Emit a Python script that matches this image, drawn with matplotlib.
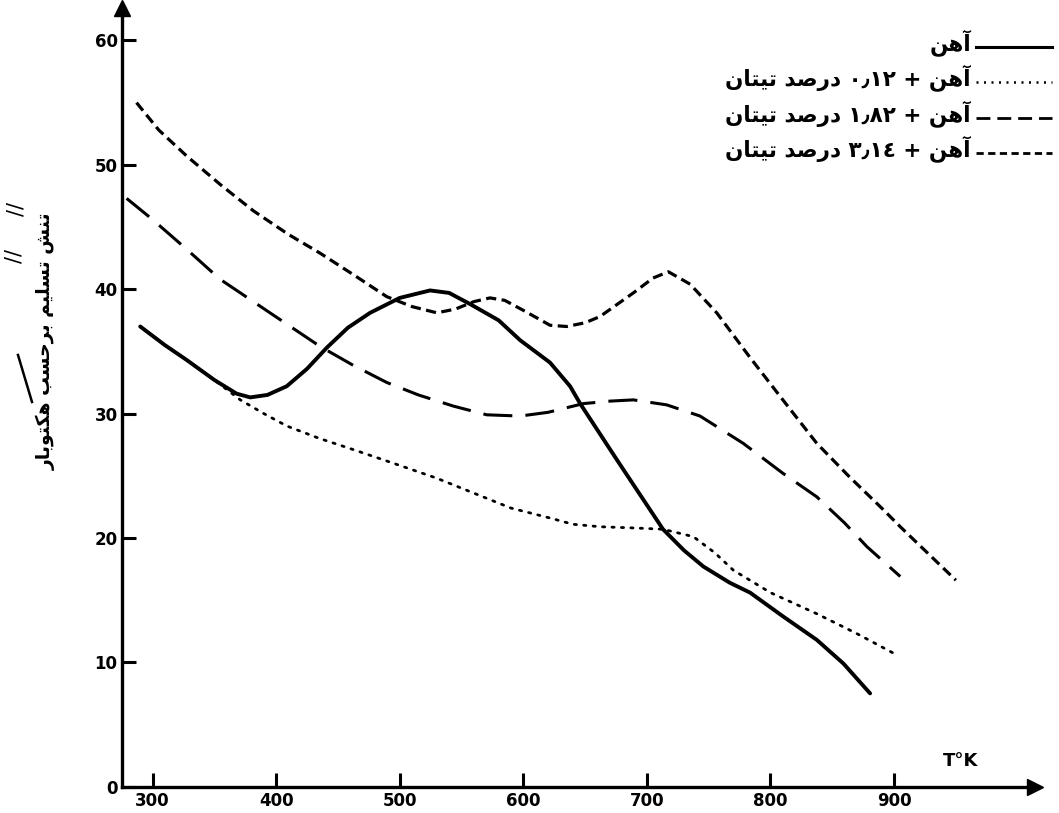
import re
import matplotlib
matplotlib.use("Agg")
import matplotlib.pyplot as plt
from matplotlib.lines import Line2D

# Temperature (K) and yield stress (hbar)
t_fe = [290, 310, 327.7, 350, 368, 379, 393, 408.6, 425, 441, 458, 476, 500, 524.5, 540,
        557, 580, 597.4, 621.6, 637.8, 646, 675.6, 713, 730, 745.7, 767, 783.5, 810, 837.5, 859, 880.6]
s_fe = [37.0, 35.5, 34.3, 32.7, 31.6, 31.3, 31.5, 32.2, 33.6, 35.3, 36.9, 38.1, 39.3, 39.9, 39.7,
        38.8, 37.5, 35.9, 34.1, 32.2, 30.8, 26.3, 20.7, 19.0, 17.7, 16.4, 15.6, 13.7, 11.8, 9.9, 7.5]

t_ti012 = [290, 310, 327.7, 350, 371, 390, 408.6, 435, 462.5, 495, 530, 560, 590, 621.6, 640,
           662, 690, 713, 737.6, 755, 770, 800, 837.5, 870, 902]
s_ti012 = [37.0, 35.5, 34.3, 32.7, 31.1, 30.0, 29.0, 28.0, 27.1, 26.0, 24.8, 23.6, 22.4, 21.6, 21.1,
           20.9, 20.8, 20.7, 20.1, 18.8, 17.4, 15.6, 13.9, 12.3, 10.6]

t_ti182 = [279, 300, 327.7, 354.6, 395, 435.5, 462, 489.5, 515, 543.4, 570.4, 597.4, 620, 648.6,
           670, 689, 716, 743, 778, 810, 837.5, 860, 878, 905]
s_ti182 = [47.3, 45.6, 43.2, 40.8, 38.1, 35.4, 33.9, 32.5, 31.5, 30.6, 29.9, 29.8, 30.1, 30.8,
           31.0, 31.1, 30.7, 29.8, 27.6, 25.2, 23.3, 21.2, 19.3, 16.9]

t_ti314 = [287, 305, 327.7, 355, 381.6, 410, 435.5, 462, 489.5, 510, 530, 545, 560, 573, 585, 600,
           621.6, 635, 650, 662, 689, 705, 717.4, 735, 756.5, 783.5, 810, 837.5, 864, 891, 905, 950]
s_ti314 = [55.0, 52.8, 50.7, 48.4, 46.3, 44.4, 42.9, 41.2, 39.4, 38.6, 38.1, 38.4, 39.0, 39.3, 39.1, 38.3,
           37.1, 37.0, 37.3, 37.8, 39.7, 40.9, 41.4, 40.4, 38.1, 34.5, 31.1, 27.6, 24.9, 22.3, 20.9, 16.6]

legend_labels = ["آهن",
                 "آهن + ٠٫١٢ درصد تیتان",
                 "آهن + ١٫٨٢ درصد تیتان",
                 "آهن + ٣٫١٤ درصد تیتان"]
y_label = "تنش تسلیم برحسب هکتوبار"
x_ticks = [300, 400, 500, 600, 700, 800, 900]
y_ticks = [0, 10, 20, 30, 40, 50, 60]

# contextual forms: isolated, final, initial, medial (None = does not join forward)
FORMS = {
    'ا': ('\uFE8D', '\uFE8E', None, None),
    'آ': ('\uFE81', '\uFE82', None, None),
    'د': ('\uFEA9', '\uFEAA', None, None),
    'ر': ('\uFEAD', '\uFEAE', None, None),
    'و': ('\uFEED', '\uFEEE', None, None),
    'ب': ('\uFE8F', '\uFE90', '\uFE91', '\uFE92'),
    'ت': ('\uFE95', '\uFE96', '\uFE97', '\uFE98'),
    'ح': ('\uFEA1', '\uFEA2', '\uFEA3', '\uFEA4'),
    'س': ('\uFEB1', '\uFEB2', '\uFEB3', '\uFEB4'),
    'ش': ('\uFEB5', '\uFEB6', '\uFEB7', '\uFEB8'),
    'ص': ('\uFEB9', '\uFEBA', '\uFEBB', '\uFEBC'),
    'ل': ('\uFEDD', '\uFEDE', '\uFEDF', '\uFEE0'),
    'م': ('\uFEE1', '\uFEE2', '\uFEE3', '\uFEE4'),
    'ن': ('\uFEE5', '\uFEE6', '\uFEE7', '\uFEE8'),
    'ه': ('\uFEE9', '\uFEEA', '\uFEEB', '\uFEEC'),
    'ی': ('\uFBFC', '\uFBFD', '\uFEF3', '\uFEF4'),
    'ک': ('\uFB8E', '\uFB8F', '\uFB90', '\uFB91'),
}


def farsi(s):
    out = []
    for i, ch in enumerate(s):
        if ch not in FORMS:
            out.append(ch)
            continue
        prev = s[i - 1] if i > 0 else ''
        nxt = s[i + 1] if i + 1 < len(s) else ''
        f = FORMS[ch]
        jp = prev in FORMS and FORMS[prev][2] is not None
        jn = f[2] is not None and nxt in FORMS
        if jp and jn:
            out.append(f[3])
        elif jp:
            out.append(f[1])
        elif jn:
            out.append(f[2])
        else:
            out.append(f[0])
    parts = re.findall('[\u0660-\u0669\u06F0-\u06F9\u066B]+|.', ''.join(out))
    return ''.join(parts[::-1])


fig = plt.figure(figsize=(10.59, 8.13), dpi=100)
ax = fig.add_axes([0.1149, 0.0324, 0.8624, 0.9576])

ax.plot(t_fe, s_fe, color='black', lw=2.8, solid_capstyle='round', solid_joinstyle='round')
ax.plot(t_ti012, s_ti012, color='black', lw=2.0, dashes=(0.8, 2.6), dash_capstyle='round')
ax.plot(t_ti182, s_ti182, color='black', lw=2.2, dashes=(9.5, 4.3))
ax.plot(t_ti314, s_ti314, color='black', lw=2.3, dashes=(3.2, 1.7))

ax.set_xlim(275, 1014)
ax.set_ylim(0, 62.6)
for side in ['top', 'right']:
    ax.spines[side].set_visible(False)
for side in ['left', 'bottom']:
    ax.spines[side].set_linewidth(2.4)

ax.set_xticks(x_ticks)
ax.set_yticks(y_ticks)
ax.tick_params(direction='in', length=10, width=2.2, labelsize=12, pad=4)
ax.tick_params(axis='y', pad=3)
for lab in ax.get_xticklabels() + ax.get_yticklabels():
    lab.set_fontweight('bold')
    lab.set_family('DejaVu Sans Condensed')

# axis arrows
ax.plot(1, 0, marker='>', ms=11, color='black', transform=ax.transAxes, clip_on=False)
ax.plot(0, 1, marker='^', ms=11, color='black', transform=ax.transAxes, clip_on=False)

ax.text(954, 2.1, 'T°K', fontsize=13, fontweight='bold', ha='center', va='center')

# legend drawn right-to-left: sample on the right, text to its left
styles = [dict(lw=2.2), dict(lw=1.8, dashes=(0.8, 2.2)),
          dict(lw=2.0, dashes=(5, 2.5)), dict(lw=2.0, dashes=(2.6, 1.6))]
rows_y = [1 - 47 / 813, 1 - 82 / 813, 1 - 118 / 813, 1 - 153 / 813]
for label, st, yy in zip(legend_labels, styles, rows_y):
    fig.add_artist(Line2D([976 / 1059, 1052 / 1059], [yy, yy], color='black', **st))
    fig.text(971 / 1059, yy + 0.006, farsi(label), ha='right', va='center',
             fontsize=15.5, fontweight='bold', family='DejaVu Sans')

fig.text(46 / 1059, 1 - 341 / 813, farsi(y_label), rotation=90, ha='center', va='center',
         fontsize=13.5, fontweight='bold', family='DejaVu Sans')
fig.text(17 / 1059, 1 - 209 / 813, '//', rotation=90, ha='center', va='center', fontsize=15)
fig.text(15 / 1059, 1 - 256 / 813, '//', rotation=90, ha='center', va='center', fontsize=15)
fig.add_artist(Line2D([18 / 1059, 32 / 1059], [1 - 355 / 813, 1 - 402 / 813], color='black', lw=1.8))

fig.savefig('out.png', dpi=100)
